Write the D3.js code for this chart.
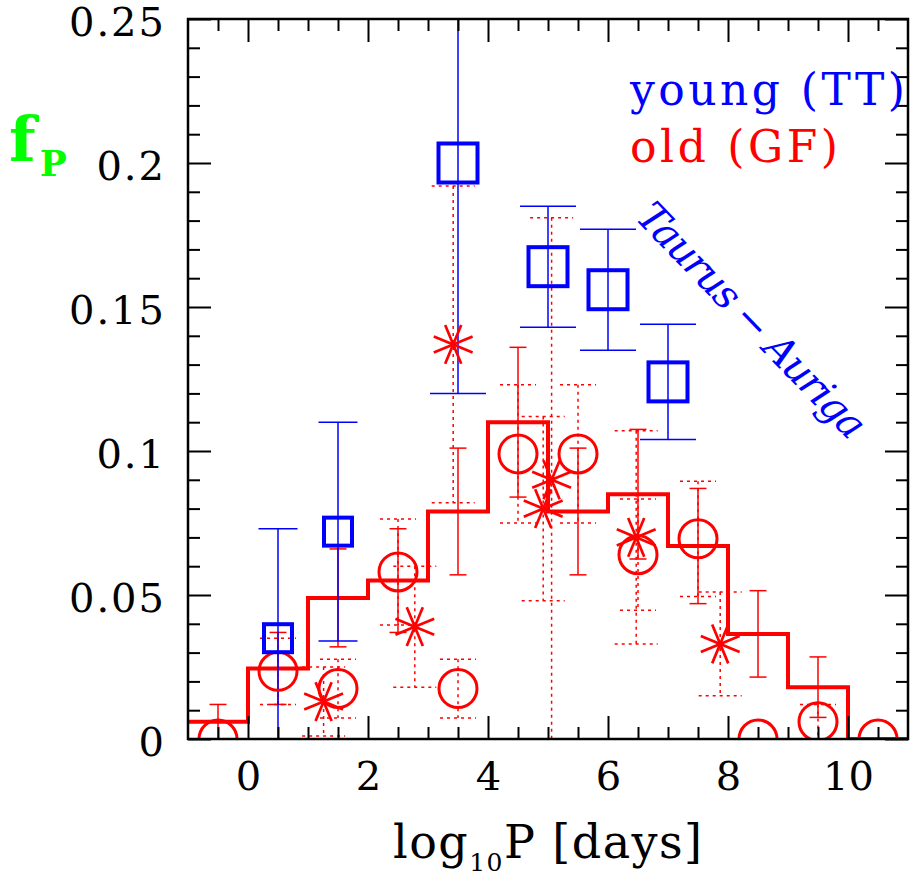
<!DOCTYPE html>
<html lang="en">
<head>
<meta charset="UTF-8">
<title>f_P vs log10 P</title>
<script src="https://cdn.jsdelivr.net/npm/d3@7"></script>
<style>
  body { margin: 0; background: #fff; }
  text { font-family: "DejaVu Serif", serif; }
</style>
</head>
<body>
<svg width="912" height="880"></svg>
<script>
  // histogram of old (GF) binaries: bin edges, fraction per bin, error
  const binEdges = [-1, 0, 1, 2, 3, 4, 5, 6, 7, 8, 9, 10, 11];
  const histFrac = [0.006, 0.0245, 0.049, 0.055, 0.079, 0.110, 0.079, 0.085, 0.067, 0.0365, 0.018, 0];
  const histErr  = [0.006, 0.0125, 0.017, 0.018, 0.022, 0.026, 0.022, 0.0225, 0.020, 0.015, 0.0105, 0];

  // old sample, circles
  const circX   = [-0.5, 0.5, 1.5, 2.5, 3.5, 4.5, 5.5, 6.5, 7.5, 8.5, 9.5, 10.5];
  const circY   = [0, 0.0235, 0.0175, 0.058, 0.0175, 0.099, 0.099, 0.064, 0.0695, 0, 0.006, 0];
  const circErr = [0, 0.0115, 0.0102, 0.0184, 0.0102, 0.024, 0.024, 0.0193, 0.020, 0, 0.006, 0];

  // old sample, asterisks
  const starX   = [1.26, 2.78, 3.42, 4.92, 5.06, 6.47, 7.87];
  const starY   = [0.013, 0.039, 0.137, 0.080, 0.090, 0.070, 0.033];
  const starErr = [0.012, 0.021, 0.055, 0.032, 0.091, 0.037, 0.018];

  // young (TT), Taurus-Auriga squares
  const sqX   = [0.5, 1.5, 3.5, 5, 6, 7];
  const sqY   = [0.035, 0.072, 0.200, 0.164, 0.156, 0.124];
  const sqErr = [0.038, 0.038, 0.080, 0.021, 0.021, 0.020];

  // tick labels
  const xTickLabels = [0, 2, 4, 6, 8, 10];
  const yTickLabels = [0, 0.05, 0.1, 0.15, 0.2, 0.25];

  const svg = d3.select("svg");
  const pLeft = 188, pRight = 908, pTop = 19, pBottom = 739;

  const x = d3.scaleLinear().domain([-1, 11]).range([pLeft, pRight]);
  const y = d3.scaleLinear().domain([0, 0.25]).range([pBottom, pTop]);

  const xMinor = d3.range(-0.5, 11, 0.5).filter(v => !xTickLabels.includes(v));
  const yMinor = d3.range(1, 25).map(i => i / 100).filter(v => Math.round(v * 100) % 5 !== 0);

  svg.append("defs").append("clipPath").attr("id", "plot")
    .append("rect").attr("x", pLeft).attr("y", pTop)
    .attr("width", pRight - pLeft).attr("height", pBottom - pTop);

  const plot = svg.append("g").attr("clip-path", "url(#plot)");

  // histogram step line
  const steps = [];
  histFrac.forEach((v, i) => { steps.push([binEdges[i], v]); steps.push([binEdges[i + 1], v]); });
  plot.append("path")
    .attr("d", d3.line().x(d => x(d[0])).y(d => y(d[1]))(steps))
    .attr("fill", "none").attr("stroke", "#ff0000").attr("stroke-width", 4)
    .attr("stroke-linejoin", "miter");

  // error bar helper
  function errBars(xs, ys, es, cap, color, width, dash) {
    const g = plot.append("g").attr("stroke", color).attr("stroke-width", width)
      .attr("fill", "none");
    if (dash) g.attr("stroke-dasharray", dash);
    xs.forEach((xv, i) => {
      if (!es[i]) return;
      const cx = x(xv), hi = y(ys[i] + es[i]), lo = y(ys[i] - es[i]);
      g.append("line").attr("x1", cx).attr("x2", cx).attr("y1", hi).attr("y2", lo);
      if (!cap) return;
      g.append("line").attr("x1", cx - cap / 2).attr("x2", cx + cap / 2).attr("y1", hi).attr("y2", hi);
      g.append("line").attr("x1", cx - cap / 2).attr("x2", cx + cap / 2).attr("y1", lo).attr("y2", lo);
    });
  }

  const binCentres = histFrac.map((v, i) => (binEdges[i] + binEdges[i + 1]) / 2);
  errBars(binCentres, histFrac, histErr, 17, "#ff0000", 1.5);
  errBars(circX, circY, circErr, 36, "#ff0000", 1.5, "3,4");
  errBars(starX, starY, starErr, 43, "#ff0000", 1.5, "3,4");
  errBars(sqX, sqY, sqErr, 0, "#0000ff", 1.5);
  // blue caps are wider for the bigger squares
  const bigSq = v => v > 2;
  sqX.forEach((xv, i) => {
    const w = bigSq(xv) ? 56 : 39, cx = x(xv);
    [sqY[i] + sqErr[i], sqY[i] - sqErr[i]].forEach(v => {
      plot.append("line").attr("x1", cx - w / 2).attr("x2", cx + w / 2)
        .attr("y1", y(v)).attr("y2", y(v))
        .attr("stroke", "#0000ff").attr("stroke-width", 1.5);
    });
  });

  // circles
  plot.append("g").selectAll("circle")
    .data(circX.map((v, i) => [v, circY[i]]))
    .join("circle")
    .attr("cx", d => x(d[0])).attr("cy", d => y(d[1])).attr("r", 19)
    .attr("fill", "none").attr("stroke", "#ff0000").attr("stroke-width", 3);

  // asterisks (8 arms)
  const arm = 21;
  const starG = plot.append("g").attr("stroke", "#ff0000").attr("stroke-width", 2.7);
  starX.forEach((xv, i) => {
    const cx = x(xv), cy = y(starY[i]);
    [22.5, 67.5, 112.5, 157.5].forEach(a => {
      const r = a * Math.PI / 180, dx = arm * Math.cos(r), dy = arm * Math.sin(r);
      starG.append("line").attr("x1", cx - dx).attr("y1", cy - dy)
        .attr("x2", cx + dx).attr("y2", cy + dy);
    });
  });

  // squares
  plot.append("g").selectAll("rect")
    .data(sqX.map((v, i) => [v, sqY[i]]))
    .join("rect")
    .each(function (d) {
      const s = bigSq(d[0]) ? 39 : 28;
      d3.select(this).attr("x", x(d[0]) - s / 2).attr("y", y(d[1]) - s / 2)
        .attr("width", s).attr("height", s);
    })
    .attr("fill", "none").attr("stroke", "#0000ff").attr("stroke-width", 4);

  // axes: ticks inside on all four sides
  function styleAxis(g) {
    g.select(".domain").remove();
    g.selectAll(".tick line").attr("stroke", "#000").attr("stroke-width", 2);
    g.selectAll(".tick text").attr("fill", "#000").attr("font-size", 40)
      .attr("font-family", "DejaVu Serif");
  }

  svg.append("g").attr("transform", `translate(0,${pBottom})`)
    .call(d3.axisBottom(x).tickValues(xTickLabels).tickSize(-23).tickPadding(23).tickFormat(d3.format("d")))
    .call(styleAxis);
  svg.append("g").attr("transform", `translate(0,${pBottom})`)
    .call(d3.axisBottom(x).tickValues(xMinor).tickSize(-12).tickFormat(""))
    .call(styleAxis);
  svg.append("g").attr("transform", `translate(0,${pTop})`)
    .call(d3.axisTop(x).tickValues(xTickLabels).tickSize(-23).tickFormat(""))
    .call(styleAxis);
  svg.append("g").attr("transform", `translate(0,${pTop})`)
    .call(d3.axisTop(x).tickValues(xMinor).tickSize(-12).tickFormat(""))
    .call(styleAxis);

  svg.append("g").attr("transform", `translate(${pLeft},0)`)
    .call(d3.axisLeft(y).tickValues(yTickLabels).tickSize(-23).tickPadding(22).tickFormat(d => String(d)))
    .call(styleAxis)
    .selectAll(".tick text").attr("dy", "0.4em").attr("letter-spacing", 2);
  svg.append("g").attr("transform", `translate(${pLeft},0)`)
    .call(d3.axisLeft(y).tickValues(yMinor).tickSize(-12).tickFormat(""))
    .call(styleAxis);
  svg.append("g").attr("transform", `translate(${pRight},0)`)
    .call(d3.axisRight(y).tickValues(yTickLabels).tickSize(-23).tickFormat(""))
    .call(styleAxis);
  svg.append("g").attr("transform", `translate(${pRight},0)`)
    .call(d3.axisRight(y).tickValues(yMinor).tickSize(-12).tickFormat(""))
    .call(styleAxis);

  // frame
  svg.append("rect").attr("x", pLeft).attr("y", pTop)
    .attr("width", pRight - pLeft).attr("height", pBottom - pTop)
    .attr("fill", "none").attr("stroke", "#000").attr("stroke-width", 2.5);

  // x title
  const xt = svg.append("text").attr("x", 393).attr("y", 858)
    .attr("font-size", 46).attr("fill", "#000").attr("textLength", 309)
    .attr("lengthAdjust", "spacing");
  xt.append("tspan").text("log");
  xt.append("tspan").attr("font-size", 25).attr("dy", 13).text("10");
  xt.append("tspan").attr("dy", -13).text("P [days]");

  // y title
  const yt = svg.append("text").attr("x", 9).attr("y", 161)
    .attr("fill", "#00ff00").attr("font-weight", "bold").attr("font-size", 62);
  yt.append("tspan").text("f");
  yt.append("tspan").attr("font-size", 36).attr("dy", 15).attr("dx", 4).text("P");

  // legend
  svg.append("text").attr("x", 630).attr("y", 105).attr("fill", "#0000ff")
    .attr("font-size", 44).attr("textLength", 275).attr("lengthAdjust", "spacing")
    .text("young (TT)");
  svg.append("text").attr("x", 630).attr("y", 162).attr("fill", "#ff0000")
    .attr("font-size", 44).attr("textLength", 208).attr("lengthAdjust", "spacing")
    .text("old (GF)");

  // sample label
  svg.append("text").attr("transform", "translate(742,330) rotate(46)")
    .attr("text-anchor", "middle").attr("fill", "#0000ff")
    .attr("font-size", 40).attr("font-style", "italic")
    .attr("textLength", 310).attr("lengthAdjust", "spacing")
    .text("Taurus \u2212 Auriga");
</script>
</body>
</html>
